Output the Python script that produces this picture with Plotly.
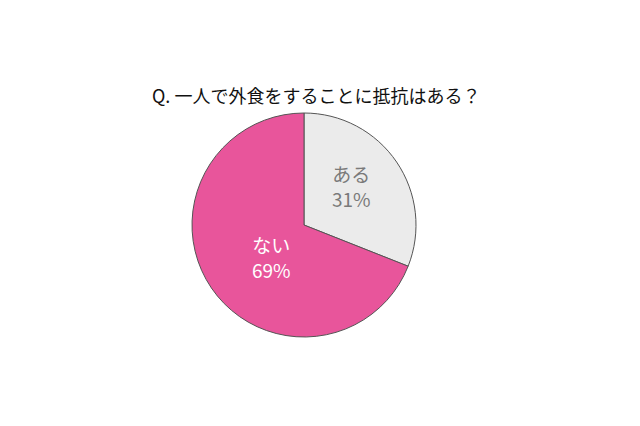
import plotly.graph_objects as go

labels = ["ある", "ない"]
values = [31, 69]
colors = ["#EBEBEB", "#E8559B"]
text_colors = ["#7a7a7a", "#ffffff"]
title = "Q. 一人で外食をすることに抵抗はある？"

W, H = 640, 426
fig = go.Figure(go.Pie(
    labels=labels,
    values=values,
    sort=False,
    direction="clockwise",
    rotation=0,
    marker=dict(colors=colors, line=dict(color="#555555", width=1)),
    textinfo="none",
    showlegend=False,
    hoverinfo="skip",
    domain=dict(x=[192 / W, 416 / W], y=[1 - 337 / H, 1 - 113 / H]),
))

# slice labels
label_pos = [(351, 186), (271, 257)]
for lab, val, col, (px, py) in zip(labels, values, text_colors, label_pos):
    fig.add_annotation(
        text=f"{lab}<br>{val}%", x=px / W, y=1 - py / H, xref="paper", yref="paper",
        showarrow=False, xanchor="center", yanchor="middle", align="center",
        font=dict(family="Noto Sans CJK JP", size=19, color=col),
    )

fig.add_annotation(
    text=title, x=316 / W, y=1 - 95 / H, xref="paper", yref="paper",
    showarrow=False, xanchor="center", yanchor="middle",
    font=dict(family="Noto Sans CJK JP", size=18, color="#111111"),
)

fig.update_layout(
    width=W, height=H,
    margin=dict(l=0, r=0, t=0, b=0),
    paper_bgcolor="white", plot_bgcolor="white",
)

fig.write_html("out.html", config={"displayModeBar": False},
               post_script="document.body.style.margin='0';")
